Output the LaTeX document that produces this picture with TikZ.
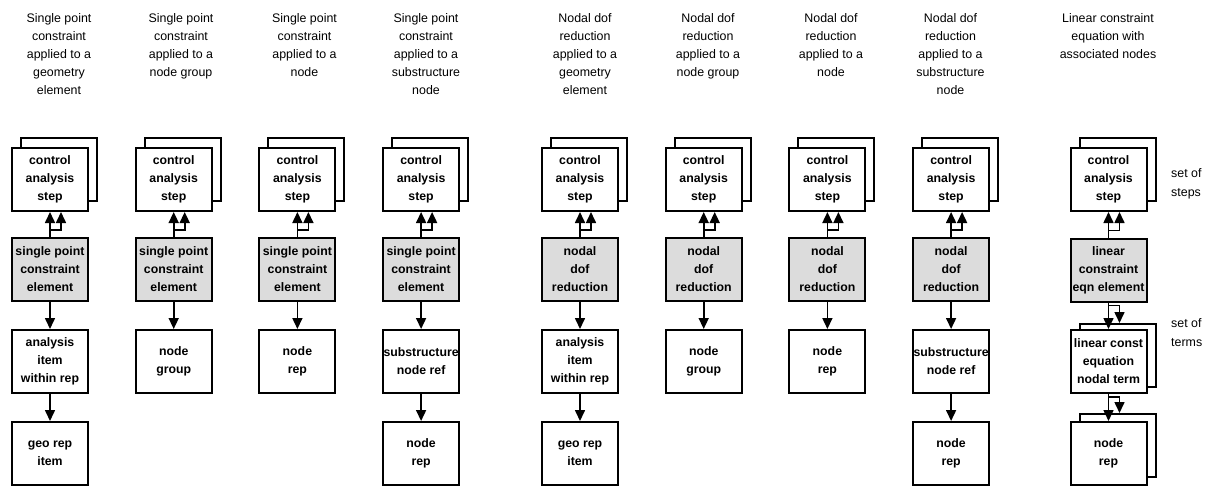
\documentclass[tikz,border=0pt]{standalone}
\usepackage{fontspec}
\setmainfont{Liberation Sans}
\usetikzlibrary{arrows.meta,calc}
\definecolor{boxgray}{RGB}{220,220,220}
\begin{document}
\begin{tikzpicture}[x=1pt,y=-1pt,
  box/.style={draw,line width=2pt,minimum width=76pt,minimum height=63pt,inner sep=0pt,
    align=center,fill=white,font=\bfseries\fontsize{12.3}{18}\selectfont},
  gbox/.style={box,fill=boxgray},
  title/.style={align=center,inner sep=0pt,anchor=base,font=\fontsize{12.4}{18.2}\selectfont},
  side/.style={align=left,inner sep=0pt,anchor=base west,font=\fontsize{12.4}{18.2}\selectfont},
  arr/.style={line width=1.6pt,-{Triangle[length=11pt,width=10pt]}},
]
\useasboundingbox (0,0) rectangle (1211,485);

% titles (anchor = baseline of the last line)
\node[title] (t1) at (59,94.8) {Single point\\constraint\\applied to a\\geometry\\element};
\node[title] (t2) at (181,76.6) {Single point\\constraint\\applied to a\\node group};
\node[title] (t3) at (304.5,76.6) {Single point\\constraint\\applied to a\\node};
\node[title] (t4) at (426,94.8) {Single point\\constraint\\applied to a\\substructure\\node};
\node[title] (t5) at (585,94.8) {Nodal dof\\reduction\\applied to a\\geometry\\element};
\node[title] (t6) at (708,76.6) {Nodal dof\\reduction\\applied to a\\node group};
\node[title] (t7) at (831,76.6) {Nodal dof\\reduction\\applied to a\\node};
\node[title] (t8) at (950.5,94.8) {Nodal dof\\reduction\\applied to a\\substructure\\node};
\node[title] (t9) at (1108,58.4) {Linear constraint\\equation with\\associated nodes};

% column 1
\node[box] (b1) at (59,169.5) {};
\node[box] (c1) at (50,179.5) {control\\analysis\\step};
\node[gbox] (s1) at (50,269.5) {single point\\constraint\\element};
\node[box] (a1) at (50,361.5) {analysis\\item\\within rep};
\node[box] (r1) at (50,453.5) {geo rep\\item};
\draw[arr] (s1) -- (c1);
\draw[arr] ([yshift=7pt]s1.north) -| ([xshift=11pt]c1.south);
\draw[arr] (s1) -- (a1);
\draw[arr] (a1) -- (r1);

% column 2
\node[box] (b2) at (182.7,169.5) {};
\node[box] (c2) at (173.7,179.5) {control\\analysis\\step};
\node[gbox] (s2) at (173.7,269.5) {single point\\constraint\\element};
\node[box] (a2) at (173.7,361.5) {node\\group};
\draw[arr] (s2) -- (c2);
\draw[arr] ([yshift=7pt]s2.north) -| ([xshift=11pt]c2.south);
\draw[arr] (s2) -- (a2);

% column 3
\node[box] (b3) at (306.4,169.5) {};
\node[box] (c3) at (297.4,179.5) {control\\analysis\\step};
\node[gbox] (s3) at (297.4,269.5) {single point\\constraint\\element};
\node[box] (a3) at (297.4,361.5) {node\\rep};
\draw[arr] (s3) -- (c3);
\draw[arr] ([yshift=7pt]s3.north) -| ([xshift=11pt]c3.south);
\draw[arr] (s3) -- (a3);

% column 4
\node[box] (b4) at (430.1,169.5) {};
\node[box] (c4) at (421.1,179.5) {control\\analysis\\step};
\node[gbox] (s4) at (421.1,269.5) {single point\\constraint\\element};
\node[box] (a4) at (421.1,361.5) {substructure\\node ref};
\node[box] (r4) at (421.1,453.5) {node\\rep};
\draw[arr] (s4) -- (c4);
\draw[arr] ([yshift=7pt]s4.north) -| ([xshift=11pt]c4.south);
\draw[arr] (s4) -- (a4);
\draw[arr] (a4) -- (r4);

% column 5
\node[box] (b5) at (589,169.5) {};
\node[box] (c5) at (580,179.5) {control\\analysis\\step};
\node[gbox] (s5) at (580,269.5) {nodal\\dof\\reduction};
\node[box] (a5) at (580,361.5) {analysis\\item\\within rep};
\node[box] (r5) at (580,453.5) {geo rep\\item};
\draw[arr] (s5) -- (c5);
\draw[arr] ([yshift=7pt]s5.north) -| ([xshift=11pt]c5.south);
\draw[arr] (s5) -- (a5);
\draw[arr] (a5) -- (r5);

% column 6
\node[box] (b6) at (712.7,169.5) {};
\node[box] (c6) at (703.7,179.5) {control\\analysis\\step};
\node[gbox] (s6) at (703.7,269.5) {nodal\\dof\\reduction};
\node[box] (a6) at (703.7,361.5) {node\\group};
\draw[arr] (s6) -- (c6);
\draw[arr] ([yshift=7pt]s6.north) -| ([xshift=11pt]c6.south);
\draw[arr] (s6) -- (a6);

% column 7
\node[box] (b7) at (836.4,169.5) {};
\node[box] (c7) at (827.4,179.5) {control\\analysis\\step};
\node[gbox] (s7) at (827.4,269.5) {nodal\\dof\\reduction};
\node[box] (a7) at (827.4,361.5) {node\\rep};
\draw[arr] (s7) -- (c7);
\draw[arr] ([yshift=7pt]s7.north) -| ([xshift=11pt]c7.south);
\draw[arr] (s7) -- (a7);

% column 8
\node[box] (b8) at (960.1,169.5) {};
\node[box] (c8) at (951.1,179.5) {control\\analysis\\step};
\node[gbox] (s8) at (951.1,269.5) {nodal\\dof\\reduction};
\node[box] (a8) at (951.1,361.5) {substructure\\node ref};
\node[box] (r8) at (951.1,453.5) {node\\rep};
\draw[arr] (s8) -- (c8);
\draw[arr] ([yshift=7pt]s8.north) -| ([xshift=11pt]c8.south);
\draw[arr] (s8) -- (a8);
\draw[arr] (a8) -- (r8);

% column 9
\node[box] (b9) at (1117.5,169.5) {};
\node[box] (c9) at (1108.5,179.5) {control\\analysis\\step};
\node[gbox] (s9) at (1108.5,270) {linear\\constraint\\eqn element};
\node[box] (ab9) at (1117.5,355.5) {};
\node[box] (a9) at (1108.5,361.5) {linear const\\equation\\nodal term};
\node[box] (rb9) at (1117.5,445.5) {};
\node[box] (r9) at (1108.5,453.5) {node\\rep};
\draw[arr] (s9) -- (c9);
\draw[arr] ([yshift=7pt]s9.north) -| ([xshift=11pt]c9.south);
\draw[arr] (s9) -- (a9);
\draw[arr] ([yshift=-3pt]s9.south) -| ([xshift=2pt]ab9.north);
\draw[arr] (a9) -- (r9);
\draw[arr] ([yshift=-3pt]a9.south) -| ([xshift=2pt]rb9.north);

% set labels (anchor = baseline of the last line)
\node[side] (l1) at (1171,196) {set of\\steps};
\node[side] (l2) at (1171,346) {set of\\terms};
\end{tikzpicture}
\end{document}
